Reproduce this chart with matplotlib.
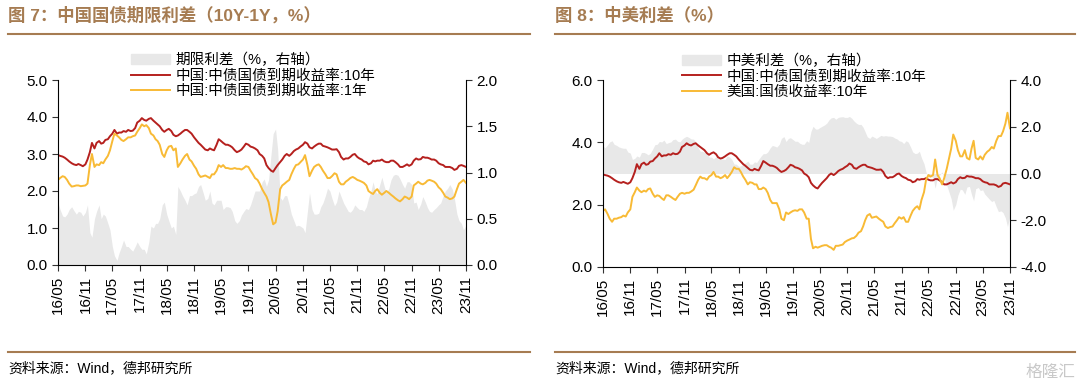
import matplotlib
matplotlib.use("Agg")
import matplotlib.pyplot as plt
import matplotlib.dates as mdates
from matplotlib.patches import Patch
from matplotlib.lines import Line2D
import numpy as np
import pandas as pd

plt.rcParams['font.family'] = ['Liberation Sans', 'Noto Sans CJK SC', 'DejaVu Sans']

# semi-monthly observations, 2016-05-01 .. 2023-11-01
cn10y = [
    2.97, 2.95, 2.93, 2.90, 2.85, 2.80, 2.75, 2.72, 2.70, 2.73, 2.70, 2.67, 2.72, 2.85, 3.05, 3.30,
    3.15, 3.30, 3.35, 3.28, 3.30, 3.38, 3.40, 3.48, 3.55, 3.65, 3.55, 3.58, 3.58, 3.62, 3.60, 3.65,
    3.62, 3.63, 3.70, 3.85, 3.90, 3.97, 3.92, 3.90,
    3.95, 3.97, 3.90, 3.85, 3.80, 3.75, 3.65, 3.60, 3.65, 3.68, 3.62, 3.52, 3.48, 3.50, 3.55, 3.60,
    3.65, 3.65, 3.60, 3.55, 3.45, 3.38, 3.30, 3.25,
    3.18, 3.12, 3.10, 3.15, 3.12, 3.10, 3.25, 3.40, 3.35, 3.30, 3.25, 3.25, 3.22, 3.18, 3.10, 3.05,
    3.08, 3.12, 3.20, 3.28, 3.25, 3.20, 3.18, 3.15,
    3.10, 3.00, 2.95, 2.88, 2.70, 2.62, 2.55, 2.52, 2.62, 2.70, 2.78, 2.85, 2.95, 3.00, 2.95, 3.00,
    3.08, 3.12, 3.15, 3.20, 3.25, 3.32, 3.28, 3.18,
    3.15, 3.20, 3.25, 3.28, 3.28, 3.22, 3.20, 3.18, 3.15, 3.12, 3.12, 3.13, 3.05, 2.92, 2.85, 2.88,
    2.88, 2.92, 2.98, 3.00, 2.92, 2.88, 2.85, 2.80,
    2.78, 2.72, 2.75, 2.82, 2.80, 2.82, 2.82, 2.85, 2.80, 2.78, 2.78, 2.82, 2.82, 2.78, 2.72, 2.65,
    2.65, 2.68, 2.72, 2.68, 2.72, 2.82, 2.88, 2.85,
    2.86, 2.92, 2.90, 2.90, 2.88, 2.85, 2.85, 2.82, 2.75, 2.72, 2.70, 2.65, 2.65, 2.65, 2.62, 2.57,
    2.60, 2.68, 2.70, 2.68, 2.65,
]

cn1y = [
    2.30, 2.35, 2.40, 2.38, 2.30, 2.20, 2.12, 2.13, 2.15, 2.15, 2.13, 2.14, 2.15, 2.20, 2.70, 3.00,
    2.65, 2.72, 2.70, 2.78, 2.75, 2.85, 2.95, 3.10, 3.35, 3.55, 3.50, 3.45, 3.38, 3.35, 3.40, 3.45,
    3.45, 3.48, 3.50, 3.60, 3.70, 3.80, 3.75, 3.78,
    3.70, 3.55, 3.50, 3.40, 3.35, 3.25, 3.00, 2.92, 3.10, 3.20, 3.22, 3.10, 3.15, 2.65, 2.75, 2.85,
    2.95, 3.00, 2.85, 2.80, 2.68, 2.60, 2.45, 2.38,
    2.40, 2.42, 2.38, 2.35, 2.45, 2.45, 2.55, 2.70, 2.65, 2.70, 2.62, 2.62, 2.60, 2.60, 2.62, 2.60,
    2.60, 2.58, 2.62, 2.67, 2.65, 2.55, 2.45, 2.35,
    2.30, 2.20, 2.05, 1.95, 1.85, 1.70, 1.35, 1.10, 1.15, 1.45, 2.05, 2.15, 2.20, 2.25, 2.30, 2.45,
    2.60, 2.70, 2.72, 2.78, 2.85, 2.97, 2.70, 2.40,
    2.55, 2.65, 2.70, 2.72, 2.65, 2.55, 2.45, 2.35, 2.35, 2.40, 2.48, 2.45, 2.25, 2.18, 2.18, 2.25,
    2.30, 2.35, 2.38, 2.35, 2.30, 2.28, 2.25, 2.22,
    2.15, 2.00, 1.95, 1.92, 2.00, 2.05, 1.95, 1.90, 1.95, 2.00, 1.95, 1.90, 1.85, 1.80, 1.75, 1.72,
    1.78, 1.85, 1.82, 1.78, 1.85, 2.15, 2.20, 2.25,
    2.20, 2.18, 2.22, 2.28, 2.30, 2.28, 2.25, 2.20, 2.10, 2.05, 1.95, 1.85, 1.82, 1.78, 1.80, 1.85,
    2.05, 2.20, 2.25, 2.30, 2.22,
]

us10y = [
    1.80, 1.85, 1.70, 1.55, 1.45, 1.55, 1.55, 1.58, 1.60, 1.65, 1.62, 1.75, 1.85, 2.25, 2.40, 2.55,
    2.45, 2.40, 2.45, 2.42, 2.50, 2.52, 2.35, 2.25, 2.30, 2.28, 2.20, 2.15, 2.30, 2.30, 2.25, 2.20,
    2.15, 2.25, 2.35, 2.38, 2.35, 2.38, 2.38, 2.42,
    2.48, 2.62, 2.80, 2.90, 2.85, 2.85, 2.80, 2.90, 2.95, 3.05, 2.90, 2.90, 2.85, 2.88, 2.95, 2.85,
    2.95, 3.05, 3.20, 3.15, 3.15, 3.05, 2.90, 2.80,
    2.65, 2.72, 2.70, 2.65, 2.65, 2.50, 2.50, 2.55, 2.50, 2.38, 2.15, 2.05, 2.05, 2.05, 1.85, 1.55,
    1.50, 1.75, 1.70, 1.75, 1.80, 1.82, 1.80, 1.85,
    1.85, 1.75, 1.55, 1.55, 0.90, 0.60, 0.65, 0.62, 0.65, 0.68, 0.70, 0.70, 0.65, 0.62, 0.55, 0.68,
    0.68, 0.70, 0.72, 0.80, 0.85, 0.88, 0.92, 0.93,
    1.00, 1.10, 1.15, 1.30, 1.50, 1.65, 1.70, 1.58, 1.60, 1.62, 1.55, 1.50, 1.45, 1.30, 1.25, 1.28,
    1.30, 1.40, 1.50, 1.60, 1.55, 1.60, 1.45, 1.45,
    1.65, 1.80, 1.90, 1.95, 1.85, 2.15, 2.40, 2.80, 2.95, 2.90, 2.95, 3.45, 2.95, 2.85, 2.65, 2.85,
    3.15, 3.45, 3.80, 4.25, 4.05, 3.75, 3.55, 3.55,
    3.75, 3.50, 3.45, 3.80, 4.05, 3.50, 3.45, 3.55, 3.45, 3.60, 3.70, 3.75, 3.85, 3.80, 4.05, 4.20,
    4.20, 4.35, 4.60, 4.95, 4.45,
]

x_ticks = pd.date_range('2016-05-01', '2023-11-01', freq='6MS')

dates = pd.date_range('2016-05-01', periods=len(cn10y), freq='SMS')
cn10y = np.array(cn10y)
cn1y = np.array(cn1y)
us10y = np.array(us10y)
term_spread = cn10y - cn1y
cn_us_spread = cn10y - us10y

RED = '#B5201E'
YELLOW = '#F8BA35'
GREY = '#E8E8E8'
BROWN = '#A67C52'
LW = 1.4

fig = plt.figure(figsize=(10.8, 3.87), dpi=100)

ax1 = fig.add_axes([58/1080, 1-265/387, 408/1080, 185/387])
ax2 = fig.add_axes([603/1080, 1-267/387, 407/1080, 187/387])


def style_axes(ax, axr):
    for a in (ax, axr):
        a.spines['top'].set_visible(False)
        a.tick_params(axis='both', labelsize=11, length=4, width=0.8, color='#333333')
    ax.spines['right'].set_visible(False)
    axr.spines['left'].set_visible(False)
    axr.spines['bottom'].set_visible(False)
    ax.set_xticks(x_ticks)
    ax.xaxis.set_major_formatter(mdates.DateFormatter('%y/%m'))
    for lab in ax.get_xticklabels():
        lab.set_rotation(90)
    ax.set_xlim(x_ticks[0], x_ticks[-1])
    ax.set_zorder(axr.get_zorder() + 1)
    ax.patch.set_visible(False)


# left panel
ax1r = ax1.twinx()
ax1r.fill_between(dates, 0, term_spread, color=GREY, lw=0)
ax1.plot(dates, cn10y, color=RED, lw=LW)
ax1.plot(dates, cn1y, color=YELLOW, lw=LW)
ax1.set_ylim(0, 5)
ax1.set_yticks([0, 1, 2, 3, 4, 5])
ax1.yaxis.set_major_formatter(plt.FormatStrFormatter('%.1f'))
ax1r.set_ylim(0, 2)
ax1r.set_yticks([0, 0.5, 1.0, 1.5, 2.0])
ax1r.yaxis.set_major_formatter(plt.FormatStrFormatter('%.1f'))
style_axes(ax1, ax1r)

handles1 = [Patch(color=GREY, label='期限利差（%，右轴）'),
            Line2D([], [], color=RED, lw=LW, label='中国:中债国债到期收益率:10年'),
            Line2D([], [], color=YELLOW, lw=LW, label='中国:中债国债到期收益率:1年')]
ax1.legend(handles=handles1, loc='upper left', bbox_to_anchor=(0.16, 1.185), frameon=False,
           fontsize=10.5, handlelength=2.7, handletextpad=0.4, labelspacing=0.1, borderpad=0)

# right panel
ax2r = ax2.twinx()
ax2r.fill_between(dates, 0, cn_us_spread, color=GREY, lw=0)
ax2.plot(dates, cn10y, color=RED, lw=LW)
ax2.plot(dates, us10y, color=YELLOW, lw=LW)
ax2.set_ylim(0, 6)
ax2.set_yticks([0, 2, 4, 6])
ax2.yaxis.set_major_formatter(plt.FormatStrFormatter('%.1f'))
ax2r.set_ylim(-4, 4)
ax2r.set_yticks([-4, -2, 0, 2, 4])
ax2r.yaxis.set_major_formatter(plt.FormatStrFormatter('%.1f'))
style_axes(ax2, ax2r)

handles2 = [Patch(color=GREY, label='中美利差（%，右轴）'),
            Line2D([], [], color=RED, lw=LW, label='中国:中债国债到期收益率:10年'),
            Line2D([], [], color=YELLOW, lw=LW, label='美国:国债收益率:10年')]
ax2.legend(handles=handles2, loc='upper left', bbox_to_anchor=(0.175, 1.18), frameon=False,
           fontsize=10.5, handlelength=2.7, handletextpad=0.4, labelspacing=0.1, borderpad=0)

# titles, rules and source notes
fig.text(8/1080, 1-15/387, '图 7：中国国债期限利差（10Y-1Y，%）', color=BROWN, fontsize=12.5,
         fontweight='bold', va='center', ha='left')
fig.text(555/1080, 1-15/387, '图 8：中美利差（%）', color=BROWN, fontsize=12.5,
         fontweight='bold', va='center', ha='left')
for x0, x1 in [(8, 530), (555, 1075)]:
    fig.add_artist(Line2D([x0/1080, x1/1080], [1-34/387, 1-34/387], color=BROWN, lw=1.5))
    fig.add_artist(Line2D([x0/1080, x1/1080], [1-352/387, 1-352/387], color=BROWN, lw=1.5))
fig.text(8/1080, 1-368/387, '资料来源：Wind，德邦研究所', fontsize=10, va='center', ha='left')
fig.text(555/1080, 1-368/387, '资料来源：Wind，德邦研究所', fontsize=10, va='center', ha='left')
fig.text(1075/1080, 1-372/387, '格隆汇', fontsize=12, color='#C8C8C8', va='center', ha='right')

fig.savefig('out.png', dpi=100)
